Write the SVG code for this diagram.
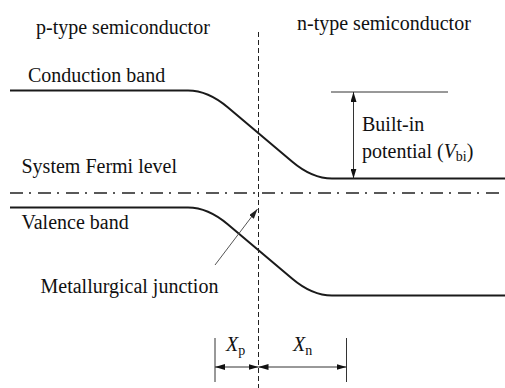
<svg xmlns="http://www.w3.org/2000/svg" width="505" height="388" viewBox="0 0 505 388">
<style>
.t{font-family:'Liberation Serif','Times New Roman',Times,serif;font-size:20px;fill:#111}
.i{font-style:italic}
.s{font-size:14px}
.band{fill:none;stroke:#1a1a1a;stroke-width:2}
.thin{fill:none;stroke:#333;stroke-width:1}
</style>
<defs>
<marker id="ah" viewBox="0 0 10 6" refX="10" refY="3" markerWidth="10" markerHeight="6" markerUnits="userSpaceOnUse" orient="auto-start-reverse">
<path d="M0,0 L10,3 L0,6 Z" fill="#111"/>
</marker>
<marker id="ahg" viewBox="0 0 10 6" refX="10" refY="3" markerWidth="10" markerHeight="6" markerUnits="userSpaceOnUse" orient="auto">
<path d="M0,0 L10,3 L0,6 Z" fill="#222"/>
</marker>
</defs>
<rect width="505" height="388" fill="#fff"/>
<g id="labels" font-family="Liberation Serif, Times New Roman, serif">
<text class="t" x="36" y="34">p-type semiconductor</text>
<text class="t" x="297" y="30">n-type semiconductor</text>
<text class="t" x="28" y="81.5">Conduction band</text>
<text class="t" x="21.5" y="173">System Fermi level</text>
<text class="t" x="21.5" y="229">Valence band</text>
<text class="t" x="40.5" y="292.5">Metallurgical junction</text>
<text class="t" x="362" y="131">Built-in</text>
<text class="t" x="362" y="158">potential (<tspan class="i">V</tspan><tspan class="s" dy="3">bi</tspan><tspan dy="-3">)</tspan></text>
<text class="t" x="226" y="351"><tspan class="i">X</tspan><tspan class="s" dy="4">p</tspan></text>
<text class="t" x="293" y="351"><tspan class="i">X</tspan><tspan class="s" dy="4">n</tspan></text>
</g>
<g id="conduction-band">
<path class="band" d="M10,90.5 H188 Q208,90.5 228,107.5 L292,161.5 Q312,178.5 332,178.5 H505"/>
</g>
<g id="valence-band">
<path class="band" d="M10,207.5 H188 Q208,207.5 228,224.5 L292,278.5 Q312,295.5 332,295.5 H505"/>
</g>
<g id="fermi-level">
<line x1="10" y1="193" x2="505" y2="193" stroke="#222" stroke-width="1.6" stroke-dasharray="13 6 2 7"/>
</g>
<g id="junction">
<line x1="258.5" y1="32" x2="258.5" y2="388" stroke="#222" stroke-width="1" stroke-dasharray="5 3"/>
</g>
<g id="connectors">
<line class="thin" x1="331" y1="92" x2="448" y2="92"/>
<line class="thin" x1="353.5" y1="92" x2="353.5" y2="178.5" marker-start="url(#ah)" marker-end="url(#ah)"/>
<line x1="215" y1="265" x2="257.5" y2="209" stroke="#555" stroke-width="1" marker-end="url(#ahg)"/>
<line class="thin" x1="215" y1="338" x2="215" y2="382"/>
<line class="thin" x1="346.5" y1="338" x2="346.5" y2="382"/>
<line class="thin" x1="215" y1="367" x2="258.5" y2="367" marker-start="url(#ah)" marker-end="url(#ah)"/>
<line class="thin" x1="258.5" y1="367" x2="346.5" y2="367" marker-start="url(#ah)" marker-end="url(#ah)"/>
</g>
</svg>
